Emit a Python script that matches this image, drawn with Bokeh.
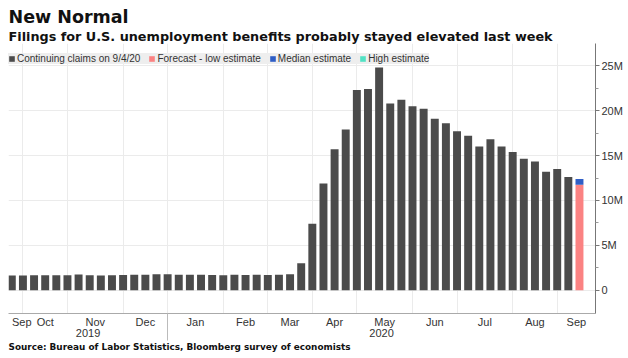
import numpy as np
import pandas as pd
from bokeh.plotting import figure
from bokeh.models import (Range1d, FixedTicker, LinearAxis, Title, Legend, LegendItem,
                          ColumnDataSource, Grid, PrintfTickFormatter)
from bokeh.embed import file_html
from bokeh.resources import INLINE

# ---------------- data ----------------
week_dates = pd.date_range("2019-09-27", periods=52, freq="7D")  # weekly bars
claims_m = [1.66, 1.66, 1.67, 1.67, 1.68, 1.69, 1.75, 1.68, 1.66, 1.69, 1.70, 1.72, 1.73,
            1.78, 1.80, 1.73, 1.74, 1.72, 1.70, 1.69, 1.72, 1.71, 1.73, 1.70, 1.72, 1.78,
            3.0, 7.4, 11.9, 15.7, 17.9, 22.3, 22.4, 24.8, 20.8, 21.2, 20.5, 20.2, 19.1,
            18.6, 17.7, 17.2, 16.0, 16.8, 16.0, 15.4, 14.65, 14.35, 13.2, 13.5, 12.6]
forecast_low_m = 11.75
forecast_median_m = 12.4
forecast_high_m = 12.4
y_ticks_m = [0, 5, 10, 15, 20, 25]
y_tick_labels = ["0", "5M", "10M", "15M", "20M", "25M"]
month_labels = ["Sep", "Oct", "Nov", "Dec", "Jan", "Feb", "Mar", "Apr", "May",
                "Jun", "Jul", "Aug", "Sep"]
year_labels = ["2019", "2020"]
legend_labels = ["Continuing claims on 9/4/20", "Forecast - low estimate",
                 "Median estimate", "High estimate"]

# ---------------- helpers ----------------
DAY = 86400000.0
xs = (week_dates.values.astype("datetime64[ms]").astype(np.int64)).astype(float)
x0 = xs[0]
WEEK = 7 * DAY

FONT = "Liberation Sans"
BOLDFONT = "DejaVu Sans"
DARK = "#4b4b4b"
PINK = "#fb8282"
BLUE = "#2f5ec6"
TEAL = "#52e2c4"

x_start = x0 - 0.296 * WEEK
x_end = x0 + 52.44 * WEEK

p = figure(width=628, height=358, output_backend="svg", toolbar_location=None,
           x_axis_type=None, y_axis_location="right",
           x_range=Range1d(x_start, x_end), y_range=Range1d(-2.58, 27.47),
           min_border_left=8, min_border_right=33, min_border_top=0, min_border_bottom=45)
p.outline_line_color = None
p.background_fill_color = "white"

# bars
act = ColumnDataSource(dict(x=xs[:51], top=claims_m))
r_act = p.vbar(x="x", top="top", bottom=0, width=5 * DAY, source=act,
               fill_color=DARK, line_color=None)
fx = [xs[51]]
r_low = p.vbar(x=fx, top=[forecast_low_m], bottom=0, width=5 * DAY,
               fill_color=PINK, line_color=None)
r_med = p.vbar(x=fx, top=[forecast_median_m], bottom=[forecast_low_m],
               width=5 * DAY, fill_color=BLUE, line_color=None)
r_high = p.vbar(x=fx, top=[forecast_high_m], bottom=[forecast_median_m],
                width=5 * DAY, fill_color=TEAL, line_color=None)

# y axis (right)
yax = p.yaxis[0]
yax.ticker = FixedTicker(ticks=y_ticks_m,
                         minor_ticks=[v + 2.5 for v in y_ticks_m[:-1]])
yax.formatter = PrintfTickFormatter(format="%dM")
yax.major_label_overrides = {v: lab for v, lab in zip(y_ticks_m, y_tick_labels)}
yax.axis_line_color = "#777777"
yax.major_tick_line_color = "#777777"
yax.minor_tick_line_color = "#999999"
yax.major_tick_out = 4
yax.major_tick_in = 0
yax.minor_tick_out = 3
yax.minor_tick_in = 0
yax.major_label_standoff = 2
yax.major_label_text_font = FONT
yax.major_label_text_font_size = "11px"
yax.major_label_text_color = "#333333"

p.ygrid.ticker = FixedTicker(ticks=y_ticks_m)
p.ygrid.grid_line_color = "#ebebeb"

# month boundaries: first bar of each month
months = week_dates.month
grid_x = [xs[k] for k in range(1, 52) if months[k] != months[k - 1]]
label_x = [x0 + 0.9 * WEEK]
for i in range(len(grid_x)):
    nxt = grid_x[i + 1] if i + 1 < len(grid_x) else x_end
    label_x.append((grid_x[i] + nxt) / 2)
year_sep = [g for g in grid_x if pd.Timestamp(g, unit="ms").month == 1][0]
year_x = [(x_start + year_sep) / 2, (year_sep + x_end) / 2]

vg = Grid(dimension=0, ticker=FixedTicker(ticks=grid_x), grid_line_color="#ebebeb")
p.add_layout(vg)

month_axis = LinearAxis(ticker=FixedTicker(ticks=label_x, minor_ticks=[year_sep]),
                        major_label_overrides={x: l for x, l in zip(label_x, month_labels)})
month_axis.axis_line_color = "#aaaaaa"
month_axis.major_tick_out = 0
month_axis.major_tick_in = 0
month_axis.minor_tick_out = 27
month_axis.minor_tick_in = 0
month_axis.minor_tick_line_color = "#bbbbbb"
month_axis.major_label_standoff = -25
month_axis.major_label_text_font = FONT
month_axis.major_label_text_font_size = "11px"
month_axis.major_label_text_color = "#333333"
p.add_layout(month_axis, "below")

year_axis = LinearAxis(ticker=FixedTicker(ticks=year_x),
                       major_label_overrides={x: l for x, l in zip(year_x, year_labels)})
year_axis.axis_line_color = None
year_axis.major_tick_line_color = None
year_axis.minor_tick_line_color = None
year_axis.major_tick_out = 0
year_axis.major_tick_in = 0
year_axis.minor_tick_out = 0
year_axis.minor_tick_in = 0
year_axis.major_label_standoff = -2
year_axis.major_label_text_font = FONT
year_axis.major_label_text_font_size = "11px"
year_axis.major_label_text_color = "#333333"
p.add_layout(year_axis, "below")

src = Title(text="Source: Bureau of Labor Statistics, Bloomberg survey of economists",
            align="left", text_font=BOLDFONT, text_font_size="8.9px", text_font_style="bold",
            text_color="#111111", standoff=0, offset=0)
p.add_layout(src, "below")

sub = Title(text="Filings for U.S. unemployment benefits probably stayed elevated last week",
            align="left", text_font=BOLDFONT, text_font_size="12.8px", text_font_style="bold",
            text_color="#111111", standoff=0, offset=0)
p.add_layout(sub, "above")
main = Title(text="New Normal", align="left", text_font=BOLDFONT, text_font_size="17.5px",
             text_font_style="bold", text_color="#111111", standoff=0, offset=0)
p.add_layout(main, "above")
spacer = Title(text=" ", align="left", text_font=BOLDFONT, text_font_size="2px",
               standoff=0, offset=0)
p.add_layout(spacer, "above")

legend = Legend(items=[LegendItem(label=legend_labels[0], renderers=[r_act]),
                       LegendItem(label=legend_labels[1], renderers=[r_low]),
                       LegendItem(label=legend_labels[2], renderers=[r_med]),
                       LegendItem(label=legend_labels[3], renderers=[r_high])],
                location=(0, 249), orientation="horizontal")
legend.background_fill_color = "#eeeeee"
legend.background_fill_alpha = 1
legend.border_line_color = None
legend.margin = 0
legend.padding = 3
legend.spacing = 8
legend.glyph_width = 7
legend.glyph_height = 7
legend.label_standoff = 2
legend.label_text_font = FONT
legend.label_text_font_size = "10px"
legend.label_text_color = "#333333"
legend.label_height = 10
p.add_layout(legend)

open("out.html", "w").write(file_html(p, INLINE))
